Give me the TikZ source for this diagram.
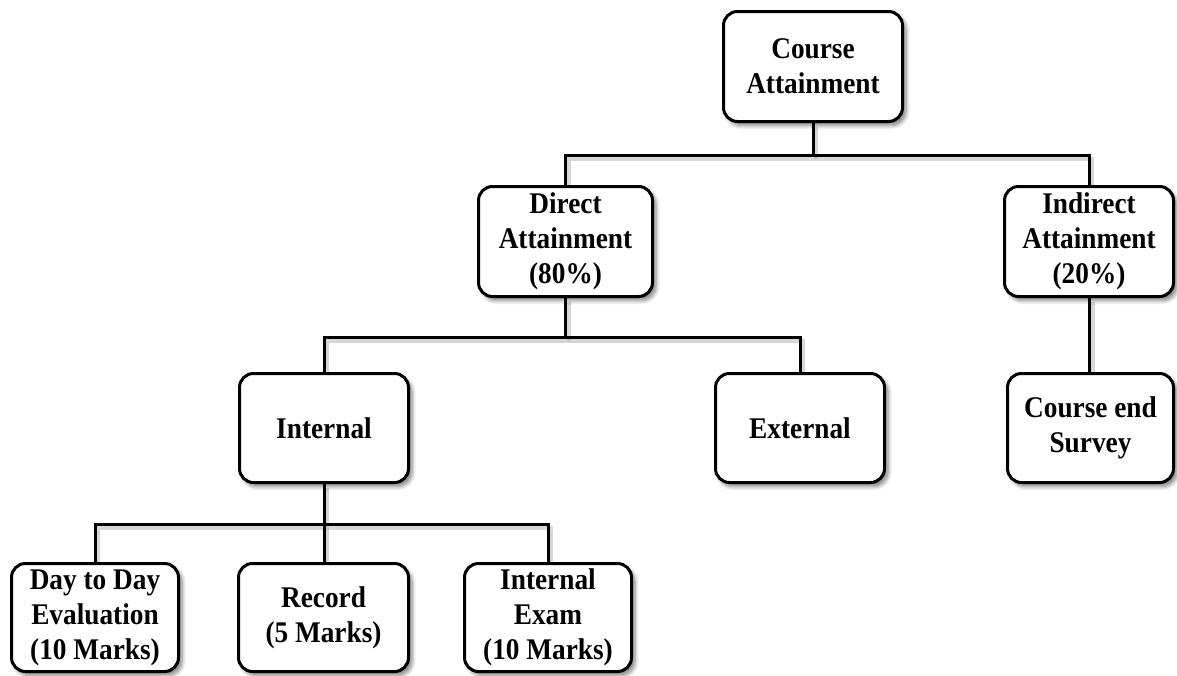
\documentclass[tikz,border=0pt]{standalone}
\usepackage{fontspec}
\setmainfont[FakeStretch=0.91]{Liberation Serif}
\usetikzlibrary{shadows.blur}
\begin{document}
\begin{tikzpicture}[x=1pt,y=1pt,
  box/.style={draw=black, fill=white, line width=3pt, rounded corners=14pt,
    align=center, inner sep=1pt,
    font=\bfseries\fontsize{30}{35}\selectfont,
    blur shadow={shadow xshift=3.5pt, shadow yshift=-4pt, shadow blur radius=4pt,
      shadow blur steps=6, shadow opacity=50}},
  link/.style={line width=3pt, black},
  linkshade/.style={line width=4pt, black!35, opacity=0.45, transform canvas={shift={(3pt,-3.5pt)}}}
]
\useasboundingbox (0,0) rectangle (1177,-675);

% junction points of the horizontal bars
\coordinate (j1) at (813,-155);
\coordinate (j2) at (565.5,-337);
\coordinate (j3) at (324,-524);

% soft shading under the connectors
\draw[linkshade] (813,-123) -- (j1);
\draw[linkshade] (565.5,-185) |- (j1) -| (1089,-185);
\draw[linkshade] (565.5,-298) -- (j2);
\draw[linkshade] (324,-372) |- (j2) -| (800,-372);
\draw[linkshade] (1089.5,-298) -- (1089.5,-372);
\draw[linkshade] (324,-484) -- (j3);
\draw[linkshade] (95,-562) |- (j3) -| (548,-562);
\draw[linkshade] (j3) -- (324,-562);

% boxes
\node[box, minimum width=179pt, minimum height=110pt] (ca) at (813,-66.5) {Course\\Attainment};
\node[box, minimum width=174pt, minimum height=110pt] (da) at (565.5,-241.5) {Direct\\Attainment\\(80\%)};
\node[box, minimum width=169pt, minimum height=110pt] (ia) at (1089,-241.5) {Indirect\\Attainment\\(20\%)};
\node[box, minimum width=169pt, minimum height=109pt] (in) at (324,-428) {Internal};
\node[box, minimum width=169pt, minimum height=109pt] (ex) at (800,-428) {External};
\node[box, minimum width=166pt, minimum height=109pt] (ce) at (1090.5,-428) {Course end\\Survey};
\node[box, minimum width=167pt, minimum height=108pt] (dd) at (95,-617.5) {Day to Day\\Evaluation\\(10 Marks)};
\node[box, minimum width=170pt, minimum height=108pt] (rec) at (323.5,-617.5) {Record\\(5 Marks)};
\node[box, minimum width=167pt, minimum height=108pt] (ie) at (548,-617.5) {Internal\\Exam\\(10 Marks)};

% tree connectors
\draw[link] (ca.south) -- (j1);
\draw[link] (da.north) |- (j1) -| (ia.north);
\draw[link] (da.south) -- (j2);
\draw[link] (in.north) |- (j2) -| (ex.north);
\draw[link] (ia.south) -- (ia.south |- ce.north);
\draw[link] (in.south) -- (j3);
\draw[link] (dd.north) |- (j3) -| (ie.north);
\draw[link] (j3) -- (j3 |- rec.north);
\end{tikzpicture}
\end{document}
